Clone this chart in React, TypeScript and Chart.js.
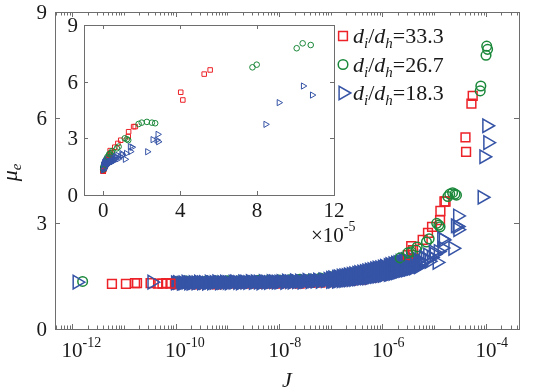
import React, { useEffect, useRef } from "react";
import { Chart, registerables } from "chart.js";
Chart.register(...registerables);

// ---------------- data ----------------
const seriesLabels = ["33.3", "26.7", "18.3"];

const xTickExps = [-12, -10, -8, -6, -4];
const yTicks = [0, 3, 6, 9];
const insetXTicks = [0, 4, 8, 12];
const insetYTicks = [0, 3, 6, 9];
const insetXExp = -5;

// d_i/d_h = 33.3 (squares)
const redJ = [5.9e-12, 1.1e-11, 1.65e-11, 1.8e-11, 3.3e-11, 4.6e-11, 5.6e-11, 6.6e-11, 8.0e-11, 3.1e-6, 3.6e-6, 3.9e-6, 6.0e-6, 7.6e-6, 9.1e-6, 1.3e-5, 1.32e-5, 1.58e-5, 1.66e-5, 4.03e-5, 4.14e-5, 5.25e-5, 5.56e-5];
const redMu = [1.28, 1.28, 1.3, 1.3, 1.3, 1.29, 1.29, 1.3, 1.29, 2.1, 2.35, 2.24, 2.53, 2.73, 2.9, 3.09, 3.35, 3.62, 3.62, 5.44, 5.03, 6.4, 6.62];
const redBandJ = [1.0e-10, 1.6e-10, 2.5e-10, 4.0e-10, 6.3e-10, 1.0e-9, 1.6e-9, 2.5e-9, 4.0e-9, 6.3e-9, 1.0e-8, 1.6e-8, 2.5e-8, 4.0e-8, 6.3e-8, 1.0e-7, 1.6e-7, 2.5e-7, 4.0e-7, 6.3e-7, 1.0e-6, 1.3e-6, 1.6e-6, 2.0e-6, 2.5e-6];
const redBandMu = [1.27, 1.28, 1.27, 1.28, 1.27, 1.28, 1.28, 1.29, 1.28, 1.29, 1.29, 1.3, 1.29, 1.31, 1.32, 1.33, 1.35, 1.37, 1.4, 1.45, 1.51, 1.58, 1.66, 1.8, 1.93];

// d_i/d_h = 26.7 (circles)
const greenJ = [1.6e-12, 2.2e-6, 3.1e-6, 3.6e-6, 4.5e-6, 4.7e-6, 7.1e-6, 8.0e-6, 1.12e-5, 1.23e-5, 1.3e-5, 1.84e-5, 2.0e-5, 2.27e-5, 2.53e-5, 2.7e-5, 7.76e-5, 7.98e-5, 1.006e-4, 1.037e-4, 1.079e-4];
const greenMu = [1.35, 2.02, 2.16, 2.19, 2.24, 2.33, 2.47, 2.56, 3.0, 2.95, 2.9, 3.76, 3.83, 3.87, 3.83, 3.8, 6.76, 6.9, 7.77, 8.03, 7.94];
const greenBandJ = [1.0e-10, 1.6e-10, 2.5e-10, 4.0e-10, 6.3e-10, 1.0e-9, 1.6e-9, 2.5e-9, 4.0e-9, 6.3e-9, 1.0e-8, 1.6e-8, 2.5e-8, 4.0e-8, 6.3e-8, 1.0e-7, 1.6e-7, 2.5e-7, 4.0e-7, 6.3e-7, 1.0e-6, 1.3e-6, 1.6e-6];
const greenBandMu = [1.35, 1.36, 1.35, 1.36, 1.36, 1.37, 1.36, 1.37, 1.38, 1.38, 1.39, 1.4, 1.41, 1.42, 1.45, 1.48, 1.52, 1.57, 1.62, 1.68, 1.76, 1.82, 1.9];

// d_i/d_h = 18.3 (triangles)
const blueJ = [1.25e-12, 3.5e-11, 3.0e-6, 3.4e-6, 3.6e-6, 4.2e-6, 4.8e-6, 5.0e-6, 5.4e-6, 5.8e-6, 6.2e-6, 6.8e-6, 7.5e-6, 8.0e-6, 8.8e-6, 9.6e-6, 1.0e-5, 1.14e-5, 1.2e-5, 1.42e-5, 1.4e-5, 1.5e-5, 2.3e-5, 2.58e-5, 2.79e-5, 2.87e-5, 2.84e-5, 8.45e-5, 9.14e-5, 1.04e-4, 1.087e-4];
const blueMu = [1.33, 1.33, 1.7, 1.76, 1.74, 1.8, 1.78, 1.95, 1.82, 1.9, 2.04, 1.98, 2.1, 1.92, 2.03, 2.19, 2.12, 1.89, 2.2, 2.3, 2.56, 2.53, 2.29, 2.93, 2.91, 2.82, 3.21, 3.74, 4.89, 5.77, 5.29];
const blueBandJ = [
  1.0e-10, 1.1e-10, 1.3e-10, 1.4e-10, 1.6e-10, 1.8e-10, 2.0e-10, 2.2e-10, 2.5e-10, 2.8e-10,
  3.2e-10, 3.5e-10, 4.0e-10, 4.5e-10, 5.0e-10, 5.6e-10, 6.3e-10, 7.1e-10, 7.9e-10, 8.9e-10,
  1.0e-9, 1.1e-9, 1.3e-9, 1.4e-9, 1.6e-9, 1.8e-9, 2.0e-9, 2.2e-9, 2.5e-9, 2.8e-9,
  3.2e-9, 3.5e-9, 4.0e-9, 4.5e-9, 5.0e-9, 5.6e-9, 6.3e-9, 7.1e-9, 7.9e-9, 8.9e-9,
  1.0e-8, 1.1e-8, 1.3e-8, 1.4e-8, 1.6e-8, 1.8e-8, 2.0e-8, 2.2e-8, 2.5e-8, 2.8e-8,
  3.2e-8, 3.5e-8, 4.0e-8, 4.5e-8, 5.0e-8, 5.6e-8, 6.3e-8, 7.1e-8, 7.9e-8, 8.9e-8,
  1.0e-7, 1.0e-7, 1.1e-7, 1.1e-7, 1.3e-7, 1.3e-7, 1.4e-7, 1.4e-7, 1.6e-7, 1.6e-7,
  1.8e-7, 1.8e-7, 2.0e-7, 2.0e-7, 2.2e-7, 2.2e-7, 2.5e-7, 2.5e-7, 2.8e-7, 2.8e-7,
  3.2e-7, 3.2e-7, 3.5e-7, 3.5e-7, 4.0e-7, 4.0e-7, 4.5e-7, 4.5e-7, 5.0e-7, 5.0e-7,
  5.6e-7, 5.6e-7, 6.3e-7, 6.3e-7, 7.1e-7, 7.1e-7, 7.9e-7, 7.9e-7, 8.9e-7, 8.9e-7,
  1.0e-6, 1.0e-6, 1.1e-6, 1.1e-6, 1.3e-6, 1.3e-6, 1.4e-6, 1.4e-6, 1.6e-6, 1.6e-6,
  1.8e-6, 1.8e-6, 2.0e-6, 2.0e-6, 2.2e-6, 2.2e-6, 2.5e-6, 2.5e-6, 2.8e-6, 2.8e-6,
  3.2e-6, 3.6e-6, 3.6e-6, 4.0e-6, 4.5e-6, 5.0e-6,
];
const blueBandMu = [
  1.31, 1.32, 1.3, 1.31, 1.33, 1.31, 1.3, 1.32, 1.31, 1.33,
  1.31, 1.32, 1.3, 1.33, 1.31, 1.32, 1.34, 1.31, 1.32, 1.33,
  1.32, 1.31, 1.33, 1.34, 1.32, 1.31, 1.34, 1.33, 1.32, 1.35,
  1.32, 1.34, 1.33, 1.31, 1.35, 1.33, 1.32, 1.35, 1.34, 1.33,
  1.33, 1.35, 1.32, 1.36, 1.34, 1.33, 1.37, 1.34, 1.36, 1.33,
  1.35, 1.38, 1.34, 1.37, 1.36, 1.39, 1.35, 1.4, 1.37, 1.41,
  1.35, 1.44, 1.36, 1.45, 1.36, 1.47, 1.37, 1.48, 1.37, 1.5,
  1.38, 1.51, 1.39, 1.52, 1.39, 1.54, 1.4, 1.55, 1.41, 1.57,
  1.42, 1.58, 1.43, 1.6, 1.44, 1.62, 1.45, 1.63, 1.45, 1.65,
  1.46, 1.67, 1.48, 1.69, 1.49, 1.71, 1.5, 1.73, 1.51, 1.74,
  1.52, 1.76, 1.54, 1.78, 1.55, 1.8, 1.56, 1.83, 1.58, 1.85,
  1.6, 1.87, 1.62, 1.89, 1.64, 1.92, 1.66, 1.95, 1.68, 1.97,
  1.7, 1.72, 2.0, 1.73, 1.99, 1.77,
];

// ---------------- style ----------------
const SERIF = '"Liberation Serif", "Times New Roman", Times, serif';
const RED = "rgb(236,34,40)";
const GREEN = "rgb(26,136,58)";
const BLUE = "rgb(54,84,166)";
const AXIS = "rgb(110,110,110)";
const TEXT = "rgb(25,25,25)";
const W = 540;
const H = 392;
const MAIN = { left: 55, top: 12, right: 519, bottom: 329 };
const INSET = { left: 84, top: 25, right: 334, bottom: 195 };

const pts = (xs: number[], ys: number[]) => xs.map((x, i) => ({ x, y: ys[i] }));

function makeDatasets(main: boolean) {
  const lw = main ? 1.5 : 1;
  const mk = (xs: number[], ys: number[], color: string, style: string, r: number, rot: number, filled: boolean) => ({
    data: pts(xs, ys),
    showLine: false,
    pointStyle: style,
    pointRadius: r,
    pointHoverRadius: r,
    pointRotation: rot,
    pointBorderColor: color,
    pointBackgroundColor: filled ? color : "rgba(0,0,0,0)",
    pointBorderWidth: lw,
    borderColor: color,
    backgroundColor: filled ? color : "rgba(0,0,0,0)",
  });
  // Chart.js paints the first dataset on top, so list top-most first
  return [
    mk(blueJ, blueMu, BLUE, "triangle", main ? 7.8 : 3.6, 90, false),
    mk(greenJ, greenMu, GREEN, "circle", main ? 4.8 : 2.8, 0, false),
    mk(redJ, redMu, RED, "rect", main ? 6.2 : 3.2, 0, false),
    mk(blueBandJ, blueBandMu, BLUE, "triangle", main ? 7.8 : 3.5, 90, true),
    mk(greenBandJ, greenBandMu, GREEN, "circle", main ? 4.8 : 2.6, 0, true),
    mk(redBandJ, redBandMu, RED, "rect", main ? 6.2 : 3.2, 0, true),
  ];
}

function line(ctx: CanvasRenderingContext2D, x1: number, y1: number, x2: number, y2: number) {
  ctx.beginPath();
  ctx.moveTo(x1, y1);
  ctx.lineTo(x2, y2);
  ctx.stroke();
}

function drawMarker(ctx: CanvasRenderingContext2D, style: string, x: number, y: number, color: string) {
  ctx.save();
  ctx.strokeStyle = color;
  ctx.lineWidth = 1.5;
  ctx.beginPath();
  if (style === "rect") {
    const s = 6.2 * Math.SQRT1_2;
    ctx.rect(x - s, y - s, 2 * s, 2 * s);
  } else if (style === "circle") {
    ctx.arc(x, y, 4.8, 0, Math.PI * 2);
  } else {
    const r = 7.8;
    ctx.moveTo(x + r, y);
    ctx.lineTo(x - r / 2, y - r * 0.866);
    ctx.lineTo(x - r / 2, y + r * 0.866);
    ctx.closePath();
  }
  ctx.stroke();
  ctx.restore();
}

const mainFrame = {
  id: "mainFrame",
  afterDraw(chart: any) {
    const { ctx, chartArea: a, scales } = chart;
    const x = scales.x;
    const y = scales.y;
    ctx.save();
    ctx.strokeStyle = AXIS;
    ctx.lineWidth = 1;
    ctx.strokeRect(Math.round(a.left) + 0.5, Math.round(a.top) + 0.5, Math.round(a.right - a.left), Math.round(a.bottom - a.top));
    for (let n = -14; n <= -2; n++) {
      for (let k = 1; k <= 9; k++) {
        const v = k * Math.pow(10, n);
        if (v <= x.min || v >= x.max) continue;
        const px = Math.round(x.getPixelForValue(v)) + 0.5;
        const len = k === 1 && xTickExps.includes(n) ? 5 : 3.5;
        line(ctx, px, a.bottom, px, a.bottom - len);
        line(ctx, px, a.top, px, a.top + len);
      }
    }
    for (const t of yTicks) {
      const py = Math.round(y.getPixelForValue(t)) + 0.5;
      line(ctx, a.left, py, a.left + 5, py);
      line(ctx, a.right, py, a.right - 5, py);
    }
    ctx.fillStyle = TEXT;
    ctx.textBaseline = "alphabetic";
    ctx.font = `21px ${SERIF}`;
    ctx.textAlign = "right";
    for (const t of yTicks) {
      ctx.fillText(String(t), a.left - 8, y.getPixelForValue(t) + 7);
    }
    for (const e of xTickExps) {
      const cx = x.getPixelForValue(Math.pow(10, e));
      ctx.font = `21px ${SERIF}`;
      const w = ctx.measureText("10").width;
      ctx.textAlign = "left";
      ctx.fillText("10", cx - w / 2, a.bottom + 28);
      ctx.font = `14px ${SERIF}`;
      ctx.fillText(String(e), cx + w / 2, a.bottom + 18);
    }
    ctx.font = `italic 22px ${SERIF}`;
    ctx.textAlign = "center";
    ctx.fillText("J", (a.left + a.right) / 2, 387);
    ctx.save();
    ctx.translate(17, (a.top + a.bottom) / 2 + 2);
    ctx.rotate(-Math.PI / 2);
    ctx.font = `italic 22px ${SERIF}`;
    const wm = ctx.measureText("\u03bc").width;
    ctx.font = `italic 15px ${SERIF}`;
    const we = ctx.measureText("e").width;
    ctx.textAlign = "left";
    ctx.font = `italic 22px ${SERIF}`;
    ctx.fillText("\u03bc", -(wm + we) / 2, 0);
    ctx.font = `italic 15px ${SERIF}`;
    ctx.fillText("e", -(wm + we) / 2 + wm, 4);
    ctx.restore();
    const rows = [
      { style: "rect", color: RED },
      { style: "circle", color: GREEN },
      { style: "triangle", color: BLUE },
    ];
    rows.forEach((r, i) => {
      const ly = 36 + i * 28.5;
      drawMarker(ctx, r.style, 343, ly, r.color);
      let lx = 353;
      const b = ly + 7;
      ctx.fillStyle = TEXT;
      ctx.textAlign = "left";
      const put = (s: string, font: string, dy: number) => {
        ctx.font = font;
        ctx.fillText(s, lx, b + dy);
        lx += ctx.measureText(s).width;
      };
      put("d", `italic 22px ${SERIF}`, 0);
      put("i", `italic 15px ${SERIF}`, 5);
      put("/", `22px ${SERIF}`, 0);
      put("d", `italic 22px ${SERIF}`, 0);
      put("h", `italic 15px ${SERIF}`, 5);
      put("=" + seriesLabels[i], `22px ${SERIF}`, 0);
    });
    ctx.restore();
  },
};

const insetFrame = {
  id: "insetFrame",
  beforeDraw(chart: any) {
    const { ctx, chartArea: a } = chart;
    ctx.save();
    ctx.fillStyle = "#ffffff";
    ctx.fillRect(a.left, a.top, a.right - a.left, a.bottom - a.top);
    ctx.restore();
  },
  afterDraw(chart: any) {
    const { ctx, chartArea: a, scales } = chart;
    const x = scales.x;
    const y = scales.y;
    ctx.save();
    ctx.strokeStyle = AXIS;
    ctx.lineWidth = 1;
    ctx.strokeRect(Math.round(a.left) + 0.5, Math.round(a.top) + 0.5, Math.round(a.right - a.left), Math.round(a.bottom - a.top));
    const f = Math.pow(10, insetXExp);
    for (const t of insetXTicks) {
      const px = Math.round(x.getPixelForValue(t * f)) + 0.5;
      line(ctx, px, a.bottom, px, a.bottom - 4);
      line(ctx, px, a.top, px, a.top + 4);
    }
    for (const t of insetYTicks) {
      const py = Math.round(y.getPixelForValue(t)) + 0.5;
      line(ctx, a.left, py, a.left + 4, py);
      line(ctx, a.right, py, a.right - 4, py);
    }
    ctx.fillStyle = TEXT;
    ctx.font = `21px ${SERIF}`;
    ctx.textBaseline = "alphabetic";
    ctx.textAlign = "right";
    for (const t of insetYTicks) ctx.fillText(String(t), a.left - 6, y.getPixelForValue(t) + 7);
    ctx.textAlign = "center";
    for (const t of insetXTicks) ctx.fillText(String(t), x.getPixelForValue(t * f), a.bottom + 22);
    ctx.textAlign = "left";
    ctx.font = `21px ${SERIF}`;
    const s = "\u00d710";
    ctx.fillText(s, 311, 242);
    const w = ctx.measureText(s).width;
    ctx.font = `14px ${SERIF}`;
    ctx.fillText(String(insetXExp), 311 + w, 231);
    ctx.restore();
  },
};

export default function App() {
  const mainRef = useRef<HTMLCanvasElement | null>(null);
  const insetRef = useRef<HTMLCanvasElement | null>(null);

  useEffect(() => {
    document.body.style.margin = "0";
    const common = {
      responsive: false,
      animation: false as const,
      devicePixelRatio: 1,
      events: [] as any[],
      plugins: { legend: { display: false }, tooltip: { enabled: false } },
    };
    const main = new Chart(mainRef.current as HTMLCanvasElement, {
      type: "scatter",
      data: { datasets: makeDatasets(true) as any },
      options: {
        ...common,
        layout: { padding: { left: MAIN.left, top: MAIN.top, right: W - MAIN.right, bottom: H - MAIN.bottom } },
        scales: {
          x: { type: "logarithmic", min: Math.pow(10, -12.33), max: Math.pow(10, -3.36), display: false },
          y: { type: "linear", min: 0, max: 9, display: false },
        },
      } as any,
      plugins: [mainFrame],
    });
    const inset = new Chart(insetRef.current as HTMLCanvasElement, {
      type: "scatter",
      data: { datasets: makeDatasets(false) as any },
      options: {
        ...common,
        layout: { padding: { left: INSET.left, top: INSET.top, right: W - INSET.right, bottom: H - INSET.bottom } },
        scales: {
          x: { type: "linear", min: -1e-5, max: 12e-5, display: false },
          y: { type: "linear", min: 0, max: 9, display: false },
        },
      } as any,
      plugins: [insetFrame],
    });
    return () => {
      main.destroy();
      inset.destroy();
    };
  }, []);

  return (
    <div style={{ position: "relative", width: W, height: H, background: "#fff" }}>
      <canvas ref={mainRef} width={W} height={H} style={{ position: "absolute", left: 0, top: 0, width: W, height: H }} />
      <canvas ref={insetRef} width={W} height={H} style={{ position: "absolute", left: 0, top: 0, width: W, height: H, pointerEvents: "none" }} />
    </div>
  );
}
